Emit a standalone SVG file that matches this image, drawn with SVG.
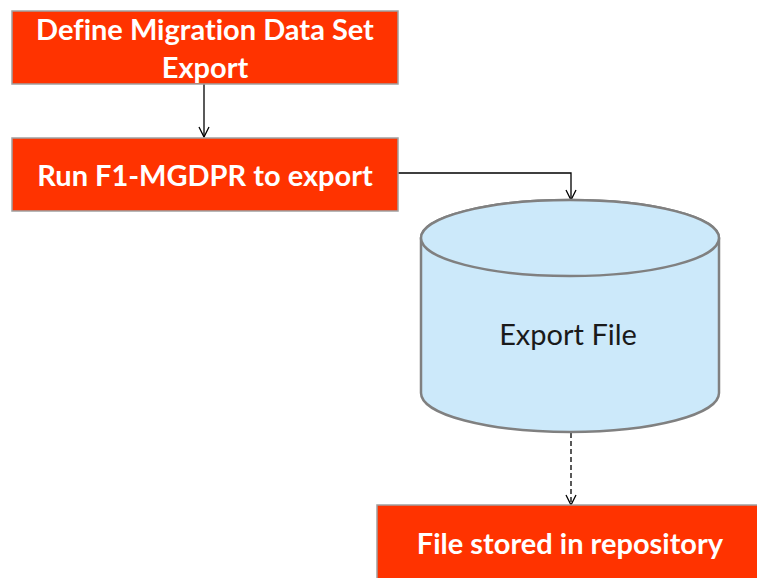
<svg xmlns="http://www.w3.org/2000/svg" width="757" height="578" viewBox="0 0 757 578">
<style>
.box{fill:#FF3300;stroke:#A0A0A0;stroke-width:1.5}
.bt{font-family:Lato,"Open Sans",sans-serif;font-weight:bold;font-size:29px;fill:#FFFFFF;text-anchor:middle;dominant-baseline:central;font-variant-ligatures:none}
.cyl{fill:#CCE9FA;stroke:#808080;stroke-width:2.5}
.ct{font-family:Lato,"Open Sans",sans-serif;font-size:29px;fill:#1a1a1a;text-anchor:middle;dominant-baseline:central}
.ln{fill:none;stroke:#000;stroke-width:1.3}
</style>
<defs>
<marker id="ah" viewBox="0 0 12 12" refX="11" refY="6" markerWidth="12" markerHeight="12" markerUnits="userSpaceOnUse" orient="auto">
<path d="M1,1 L11,6 L1,11" fill="none" stroke="#000" stroke-width="1.3"/>
</marker>
</defs>
<rect width="757" height="578" fill="#FFFFFF"/>
<g id="connectors">
<line class="ln" x1="204" y1="84" x2="204" y2="137" marker-end="url(#ah)"/>
<polyline class="ln" points="398,173 571,173 571,200" marker-end="url(#ah)"/>
<line class="ln" x1="571" y1="433" x2="571" y2="505" stroke-dasharray="5,3" marker-end="url(#ah)"/>
</g>
<g id="define">
<rect class="box" x="12" y="11" width="386" height="73"/>
<text class="bt" x="205" y="28">Define Migration Data Set</text>
<text class="bt" x="205" y="66">Export</text>
</g>
<g id="run">
<rect class="box" x="12" y="138" width="386" height="73"/>
<text class="bt" x="205" y="174">Run F1-MGDPR to export</text>
</g>
<g id="exportfile">
<path class="cyl" d="M421,238 L421,393 A149,39 0 0 0 719,393 L719,238 A149,38 0 0 0 421,238 Z"/>
<ellipse class="cyl" cx="570" cy="238" rx="149" ry="38"/>
<text class="ct" x="568" y="333">Export File</text>
</g>
<g id="stored">
<rect class="box" x="377" y="505" width="386" height="80"/>
<text class="bt" x="570" y="542">File stored in repository</text>
</g>
</svg>
